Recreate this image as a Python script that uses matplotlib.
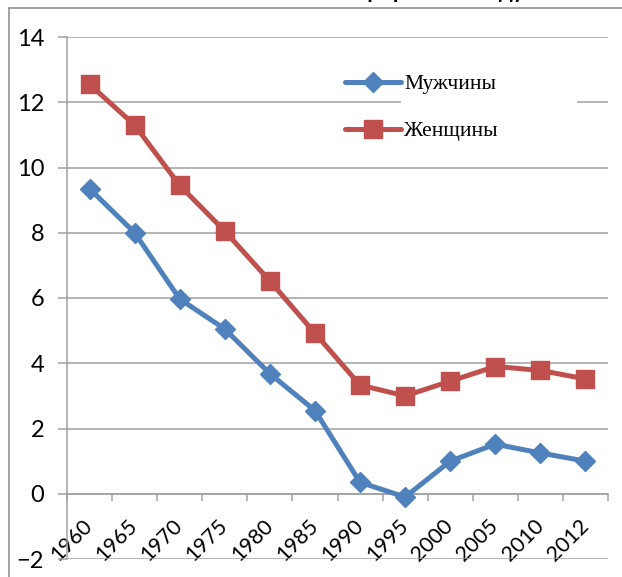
import matplotlib
matplotlib.use("Agg")
import numpy as np
import matplotlib.pyplot as plt
from matplotlib.lines import Line2D
from matplotlib.patches import Rectangle

years = ["1960", "1965", "1970", "1975", "1980", "1985",
         "1990", "1995", "2000", "2005", "2010", "2012"]
men = [9.35, 8.0, 5.97, 5.05, 3.68, 2.55, 0.35, -0.1, 1.0, 1.52, 1.25, 1.0]
women = [12.55, 11.3, 9.45, 8.05, 6.52, 4.92, 3.33, 3.0, 3.45, 3.9, 3.78, 3.52]
y_ticks = [-2, 0, 2, 4, 6, 8, 10, 12, 14]

W, H = 622, 577
grey = "#a0a0a0"
blue = "#4F81BD"
red = "#C0504D"

fig = plt.figure(figsize=(W / 100, H / 100), dpi=100)
ax = fig.add_axes([67 / W, 1 - 559 / H, (608 - 67) / W, (559 - 37) / H])

x = np.arange(len(years))
ax.plot(x, men, color=blue, lw=3.6, marker="D", ms=10.5, label="Мужчины",
        solid_joinstyle="round", solid_capstyle="round", zorder=4)
ax.plot(x, women, color=red, lw=3.6, marker="s", ms=13.5, label="Женщины",
        solid_joinstyle="round", solid_capstyle="round", zorder=4)

ax.set_xlim(-0.5, len(years) - 0.5)
ax.set_ylim(-2, 14)
ax.set_yticks(y_ticks)
ax.yaxis.grid(True, color=grey, lw=1.1)
ax.set_axisbelow(True)

for s in ["top", "right"]:
    ax.spines[s].set_visible(False)
ax.spines["left"].set_color(grey)
ax.spines["left"].set_linewidth(1.1)
ax.spines["bottom"].set_position(("data", 0))
ax.spines["bottom"].set_color(grey)
ax.spines["bottom"].set_linewidth(1.1)

ax.set_xticks(np.arange(len(years) + 1) - 0.5)
ax.set_xticklabels([])
ax.set_xticks(x, minor=True)
ax.set_xticklabels(years, minor=True, fontsize=15.5, family="Lato",
                   rotation=45, ha="right", va="center", rotation_mode="anchor")
ax.tick_params(axis="x", which="major", length=5, width=1.1, color=grey, direction="out")
ax.tick_params(axis="x", which="minor", length=0, pad=21)
ax.tick_params(axis="y", length=6.5, width=1.1, color=grey, pad=10, labelsize=17)
for t in ax.get_yticklabels():
    t.set_family("Lato")

# white patch behind the legend labels (cuts the 12 gridline)
ax.add_patch(Rectangle((401 / W, 1 - 152 / H), 175 / W, 90 / H,
                       transform=fig.transFigure, color="white", zorder=1))
leg = ax.legend(loc="upper left", bbox_to_anchor=(345 / W, 1 - 74 / H),
                bbox_transform=fig.transFigure, frameon=False, borderpad=0,
                borderaxespad=0, handlelength=2.6, handletextpad=0.15,
                labelspacing=1.25, prop={"family": "Liberation Serif", "size": 15.5})
leg.set_zorder(5)

# outer chart border (cropped on right and bottom)
fig.add_artist(Line2D([9 / W, 9 / W], [0, 1 - 8 / H], color="#8c8c8c", lw=1.1))
fig.add_artist(Line2D([9 / W, 1], [1 - 8 / H, 1 - 8 / H], color="#8c8c8c", lw=1.1))

# title, almost entirely above the top edge as in the reference
fig.text(363 / W, 1 + 2 / H, "Естественный прирост по году", ha="center",
         va="baseline", fontsize=16, fontweight="bold", family="Lato")

fig.savefig("out.png", dpi=100)
